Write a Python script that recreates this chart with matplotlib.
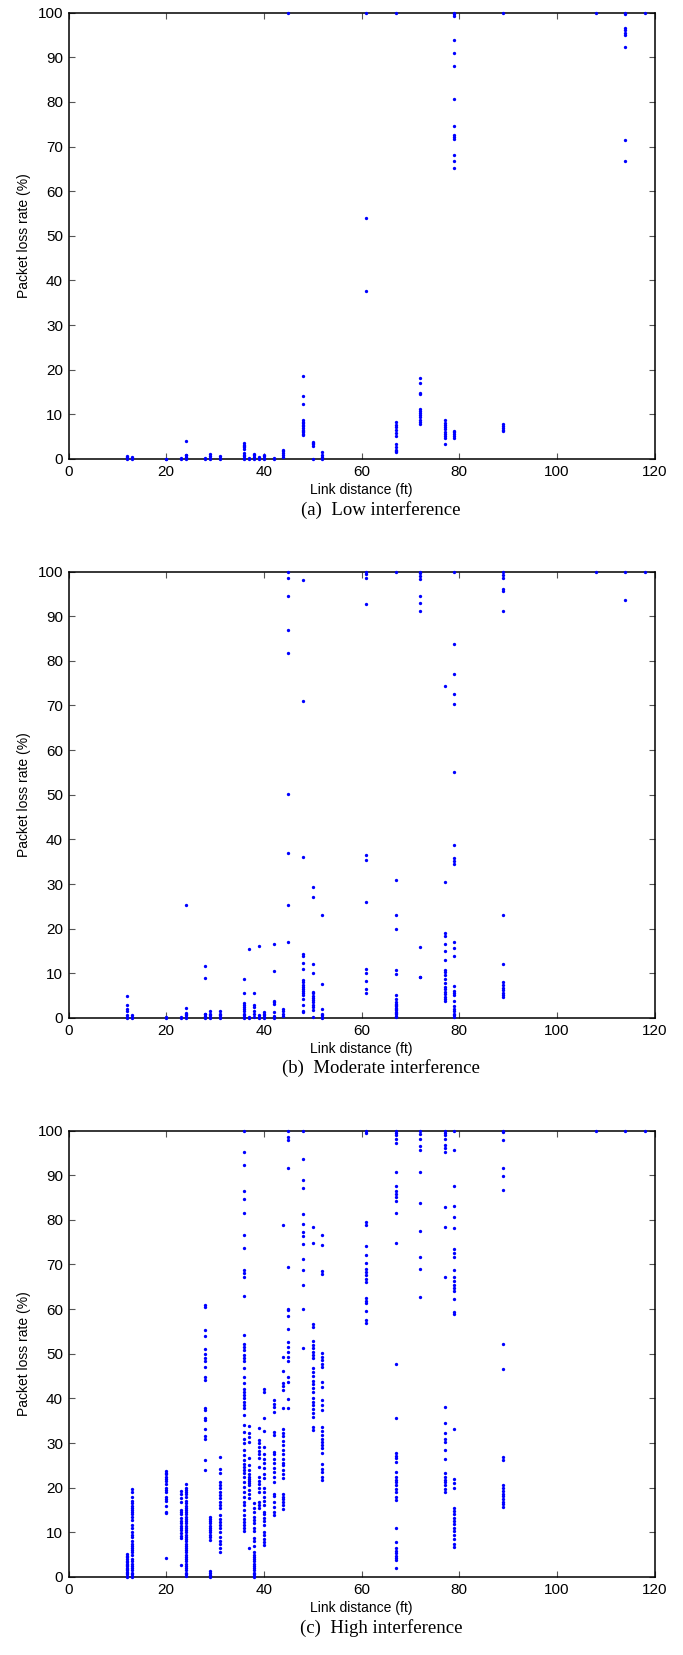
import matplotlib
matplotlib.use("Agg")
import matplotlib.pyplot as plt
import numpy as np

# packet loss (%) observed per link distance (ft), one dict per interference level
low_loss = {
    12: [0, 0.2, 0.4, 0.6],
    13: [0, 0.2, 0.4],
    20: [0, 0.1],
    23: [0, 0.2],
    24: [0, 0.2, 0.5, 0.8, 1.0, 4.0],
    28: [0, 0.2],
    29: [0, 0.3, 0.7, 1.2],
    31: [0, 0.3, 0.6],
    36: [0, 0.3, 0.6, 1.0, 1.3, 2.3, 2.6, 2.9, 3.2, 3.5],
    37: [0, 0.2],
    38: [0, 0.4, 0.8, 1.2],
    39: [0, 0.3, 0.5],
    40: [0, 0.3, 0.6, 1.0],
    42: [0, 0.2],
    44: [0.5, 0.9, 1.3, 1.7, 2.0],
    45: [100],
    48: [5.3, 5.6, 6.0, 6.3, 6.6, 7.0, 7.3, 7.7, 8.0, 8.4, 8.8, 12.4, 14.2, 18.5],
    50: [0.1, 3.0, 3.3, 3.6, 3.9],
    52: [0, 0.4, 0.8, 1.5],
    61: [37.6, 54.0, 100],
    67: [1.5, 1.8, 2.1, 2.6, 3.4, 5.2, 5.8, 6.5, 7.2, 7.6, 8.3, 100],
    72: [7.8, 8.3, 8.8, 9.3, 9.8, 10.3, 10.8, 11.3, 14.5, 14.9, 17.0, 18.2],
    77: [3.4, 4.8, 5.2, 5.6, 6.0, 6.8, 7.2, 7.6, 8.0, 8.8],
    79: [4.8, 5.2, 5.6, 6.0, 6.3, 65.3, 66.8, 68.1, 71.7, 72.2, 72.7, 74.6,
         80.7, 88.0, 91.0, 93.9, 99.3, 99.7, 100],
    89: [6.2, 6.6, 7.0, 7.4, 7.8, 100],
    108: [100],
    114: [66.7, 71.5, 92.4, 95.1, 95.5, 96.1, 96.6, 99.8, 100],
    118: [100],
}

moderate_loss = {
    12: [0, 0.3, 0.6, 1.6, 2.1, 3.0, 4.9],
    13: [0, 0.3, 0.6],
    20: [0, 0.2],
    23: [0, 0.2],
    24: [0, 0.3, 0.6, 0.9, 1.2, 2.3, 25.2],
    28: [0, 0.4, 0.8, 1.0, 8.9, 11.7],
    29: [0, 0.3, 0.6, 1.0, 1.5],
    31: [0, 0.3, 0.6, 1.0, 1.6],
    36: [0, 0.3, 0.6, 1.0, 1.5, 2.1, 2.5, 3.0, 3.4, 5.5, 8.8],
    37: [0, 0.3, 15.5],
    38: [0.3, 0.8, 1.5, 2.5, 2.9, 5.7],
    39: [0, 0.3, 0.6, 16.2],
    40: [0, 0.3, 0.6, 1.0, 1.3],
    42: [0, 0.5, 1.3, 3.1, 3.5, 3.8, 10.6, 16.6],
    44: [0.5, 1.0, 1.5, 2.0],
    45: [17.1, 25.3, 37.0, 50.2, 81.7, 86.9, 94.5, 98.5, 100],
    48: [1.3, 1.6, 3.0, 4.2, 5.1, 5.6, 6.0, 6.5, 7.0, 7.5, 8.0, 8.6, 10.9,
         12.4, 13.8, 14.4, 36.0, 70.9, 98.2],
    50: [0.2, 1.7, 2.5, 3.0, 3.5, 4.0, 4.5, 5.0, 5.5, 5.9, 10.1, 12.0, 27.2, 29.3],
    52: [0, 0.3, 0.6, 1.0, 2.0, 7.7, 23.0],
    61: [5.5, 6.6, 8.3, 10.1, 10.9, 26.0, 35.4, 36.6, 92.8, 98.5, 99.4, 100],
    67: [0.2, 0.5, 0.8, 1.1, 1.4, 1.7, 2.0, 2.3, 2.6, 2.9, 3.2, 3.5, 4.2, 5.1,
         9.8, 10.8, 20.0, 23.1, 31.0, 100],
    72: [9.1, 9.2, 15.9, 91.2, 92.9, 94.5, 98.4, 99.0, 99.6, 100],
    77: [3.7, 4.2, 4.7, 5.3, 5.9, 6.4, 7.0, 7.8, 8.7, 9.6, 10.2, 10.7, 12.9,
         15.0, 16.6, 18.3, 19.1, 30.4, 74.3],
    79: [0.2, 0.6, 1.0, 1.5, 2.0, 2.7, 3.7, 5.1, 5.6, 6.0, 7.2, 13.9, 15.6, 17.0,
         34.6, 35.2, 35.8, 38.7, 55.2, 70.3, 72.5, 77.0, 83.7, 100],
    89: [4.7, 5.2, 5.7, 6.2, 6.8, 7.3, 8.1, 12.2, 23.1, 91.2, 95.6, 96.1, 98.5,
         99.2, 100],
    108: [100],
    114: [93.6, 100],
    118: [100],
}

high_loss = {
    12: [0, 0.3, 0.6, 0.9, 1.2, 1.5, 1.8, 2.1, 2.4, 2.7, 3.0, 3.3, 3.6, 4.0,
         4.4, 4.8, 5.2],
    13: [0, 0.3, 0.6, 1.0, 1.5, 2.0, 2.5, 3.0, 3.5, 4.0, 5.0, 5.5, 6.0, 6.5,
         7.0, 7.5, 8.0, 9.0, 9.4, 10.0, 10.9, 11.6, 12.7, 13.4, 14.0, 14.5, 15.0,
         15.5, 16.0, 16.5, 17.0, 18.0, 19.0, 19.8],
    20: [4.2, 14.3, 14.6, 16.0, 17.0, 17.5, 18.0, 19.0, 19.5, 20.0, 20.8, 21.5,
         22.0, 22.5, 23.0, 23.4, 23.8],
    23: [2.7, 8.7, 9.2, 9.8, 10.5, 11.0, 11.5, 12.0, 12.5, 13.2, 14.0, 14.5,
         15.0, 16.7, 17.8, 18.6, 19.2],
    24: [0.3, 0.6, 1.0, 1.5, 2.0, 2.5, 3.0, 3.5, 4.0, 4.5, 5.0, 5.5, 6.0, 6.5,
         7.0, 7.5, 8.0, 8.5, 9.0, 9.5, 10.0, 10.5, 11.0, 11.5, 12.0, 12.5, 13.0,
         13.5, 14.0, 14.5, 15.0, 15.5, 16.0, 16.5, 17.0, 18.0, 18.5, 19.0, 19.5,
         20.0, 20.8],
    28: [24.0, 26.2, 30.8, 31.6, 33.1, 35.2, 35.5, 37.4, 37.9, 44.2, 44.7, 47.1,
         48.4, 49.1, 49.9, 51.0, 54.0, 55.3, 60.5, 60.9],
    29: [0, 0.4, 0.8, 1.3, 8.3, 8.9, 9.5, 10.0, 10.5, 11.0, 11.5, 12.0, 12.5,
         13.0, 13.5],
    31: [5.7, 6.5, 7.3, 8.1, 9.0, 10.1, 10.9, 11.6, 12.4, 13.1, 13.9, 15.4, 16.1,
         16.9, 17.6, 18.4, 19.1, 19.9, 20.6, 21.3, 23.2, 24.3, 26.8],
    36: [10.3, 11.0, 11.7, 12.4, 13.1, 13.9, 15.0, 16.1, 16.9, 18.0, 19.1, 20.2,
         21.3, 22.5, 23.2, 24.0, 24.7, 25.4, 26.2, 27.3, 28.4, 29.9, 31.0, 32.5,
         34.0, 36.3, 37.8, 38.5, 39.3, 40.0, 40.7, 41.5, 42.2, 43.4, 44.7, 46.9,
         48.4, 49.0, 49.7, 50.9, 51.6, 52.2, 54.3, 63.0, 67.2, 68.0, 68.7, 73.7,
         76.7, 81.6, 84.6, 86.4, 92.2, 95.2, 100],
    37: [6.4, 17.6, 18.5, 19.5, 20.5, 21.0, 21.5, 22.0, 22.5, 23.0, 24.0, 25.0,
         26.6, 30.3, 31.4, 32.2, 33.8],
    38: [0, 0.3, 0.6, 1.0, 1.5, 2.0, 2.5, 3.0, 3.5, 4.0, 4.5, 5.0, 5.5, 7.0, 8.0,
         8.7, 10.2, 11.0, 12.0, 12.7, 13.5, 14.5, 15.5, 16.5],
    39: [15.4, 16.2, 16.9, 19.1, 20.0, 20.8, 21.5, 22.5, 24.7, 26.6, 27.5, 28.3,
         29.1, 29.9, 30.7, 33.3],
    40: [7.2, 7.8, 8.5, 9.3, 10.1, 11.6, 12.5, 13.3, 14.0, 14.6, 16.1, 17.0,
         18.0, 19.1, 19.9, 22.1, 23.0, 24.5, 25.5, 26.5, 27.5, 29.2, 32.6, 35.5,
         41.5, 42.2],
    42: [13.9, 14.5, 15.7, 16.9, 18.1, 18.7, 21.3, 22.5, 23.5, 24.5, 25.5, 26.5,
         27.5, 28.1, 31.8, 32.5, 37.0, 38.0, 38.8, 39.6],
    44: [15.3, 16.1, 16.8, 17.4, 18.0, 18.7, 22.1, 23.0, 24.0, 25.0, 25.5, 26.5,
         27.5, 28.5, 29.5, 30.5, 31.5, 32.3, 33.1, 37.8, 41.9, 42.7, 43.4, 46.2,
         49.3, 78.8],
    45: [37.8, 39.8, 43.7, 44.7, 48.4, 49.3, 50.4, 51.5, 52.7, 55.5, 58.5, 59.8,
         60.1, 69.5, 91.5, 97.8, 98.6, 100],
    48: [51.3, 60.1, 65.4, 68.7, 71.3, 74.5, 76.3, 77.2, 79.0, 81.4, 87.2, 88.9,
         93.6, 100],
    50: [32.9, 33.7, 35.9, 36.8, 37.7, 38.5, 39.3, 40.1, 41.5, 42.3, 43.2, 44.0,
         45.0, 46.0, 46.7, 49.0, 49.8, 50.5, 51.2, 52.0, 52.8, 56.0, 56.6, 74.8,
         78.4],
    52: [21.7, 22.5, 23.5, 24.3, 25.2, 27.7, 28.8, 29.5, 30.3, 31.0, 31.8, 32.7,
         33.7, 37.4, 38.5, 39.6, 42.6, 43.6, 47.1, 47.8, 48.5, 49.3, 50.1, 67.8,
         68.6, 74.3, 76.7],
    61: [56.8, 57.5, 59.6, 61.3, 61.9, 62.5, 66.1, 66.8, 67.6, 68.3, 69.0, 70.4,
         72.2, 74.2, 78.8, 79.4, 99.5, 100],
    67: [2.1, 3.8, 4.3, 4.8, 5.3, 5.8, 6.4, 7.9, 10.9, 17.2, 18.0, 19.0, 19.8,
         20.5, 21.2, 21.8, 22.5, 23.6, 25.7, 26.6, 27.2, 27.7, 35.5, 47.6, 74.7,
         81.5, 84.2, 85.0, 85.7, 86.5, 87.6, 90.7, 97.1, 98.2, 99.0, 99.5, 100],
    72: [62.8, 69.0, 71.6, 77.6, 83.7, 90.7, 95.6, 96.5, 98.2, 99.3, 100],
    77: [19.1, 19.8, 20.5, 21.2, 21.8, 22.5, 23.2, 26.4, 28.4, 30.3, 31.0, 32.2,
         34.6, 38.0, 67.1, 78.3, 82.9, 95.2, 96.0, 96.7, 98.2, 99.0, 99.5, 100],
    79: [6.8, 7.5, 8.5, 9.5, 10.2, 11.0, 11.8, 12.6, 13.3, 14.0, 14.7, 15.4, 19.9,
         21.0, 21.9, 33.1, 58.8, 59.4, 62.2, 64.0, 64.8, 65.5, 66.3, 67.1, 68.7,
         71.6, 72.5, 73.4, 78.1, 80.7, 83.1, 87.6, 95.7, 100],
    89: [15.7, 16.3, 16.9, 17.5, 18.1, 18.7, 19.3, 19.9, 20.6, 26.2, 26.9, 46.5,
         52.2, 86.6, 89.8, 91.5, 97.8, 99.6, 100],
    108: [100],
    114: [100],
    118: [100],
}

captions = ["(a)  Low interference", "(b)  Moderate interference",
            "(c)  High interference"]

W, H = 683, 1655
fig = plt.figure(figsize=(W / 100, H / 100), dpi=100)

# axes boxes in pixels: (top, bottom), plus caption centre y
left_px, right_px = 68.6, 654.5
caption_x = 381
panels_px = [(12.7, 459.0, 510.0), (571.5, 1018.0, 1068.0), (1130.5, 1577.0, 1628.0)]

for data, caption, (top, bot, cap_y) in zip([low_loss, moderate_loss, high_loss],
                                             captions, panels_px):
    ax = fig.add_axes([left_px / W, 1 - bot / H,
                       (right_px - left_px) / W, (bot - top) / H])
    xs = np.concatenate([[d] * len(v) for d, v in data.items()])
    ys = np.concatenate([v for v in data.values()])
    ax.plot(xs, ys, "o", color="#0000ff", ms=2.4, mec="none", clip_on=False,
            zorder=3)

    ax.set_xlim(0, 120)
    ax.set_ylim(0, 100)
    ax.set_xticks(np.arange(0, 121, 20))
    ax.set_yticks(np.arange(0, 101, 10))
    ax.tick_params(direction="in", top=True, right=True, length=4, width=0.8,
                   color="#555555", labelsize=11, pad=4)
    for lab in ax.get_xticklabels() + ax.get_yticklabels():
        lab.set_family("Liberation Sans")
    for sp in ax.spines.values():
        sp.set_linewidth(1.1)
        sp.set_color("black")
    ax.set_xlabel("Link distance (ft)", family="Liberation Sans", fontsize=10,
                  labelpad=3)
    ax.set_ylabel("Packet loss rate (%)", family="Liberation Sans", fontsize=10,
                  labelpad=5)

    fig.text(caption_x / W, 1 - cap_y / H, caption,
             ha="center", va="center", family="Liberation Serif", fontsize=13.5)

fig.savefig("out.png", dpi=100)
